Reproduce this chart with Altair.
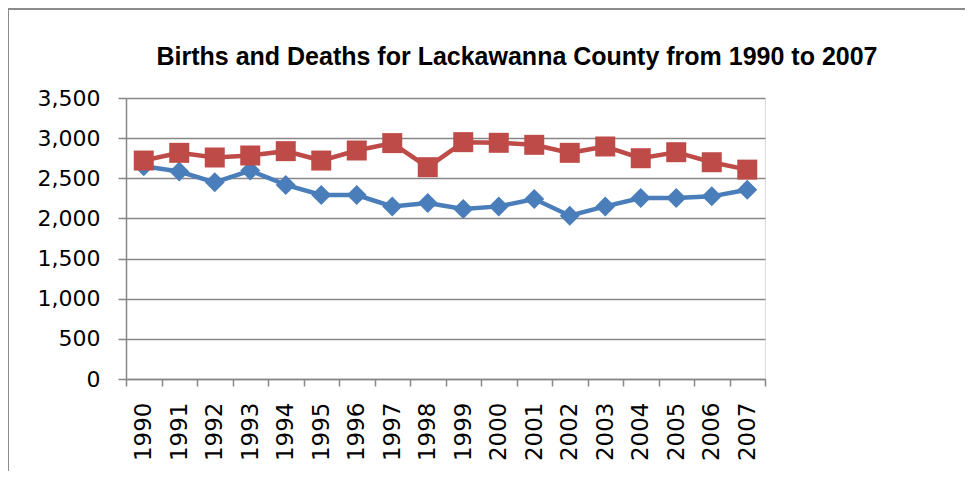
import altair as alt
import pandas as pd

years = [str(y) for y in range(1990, 2008)]
births = [2650, 2584, 2450, 2596, 2417, 2292, 2292, 2150, 2192, 2117,
          2150, 2242, 2034, 2150, 2254, 2254, 2275, 2358]
deaths = [2721, 2817, 2759, 2784, 2838, 2721, 2846, 2938, 2638, 2950,
          2942, 2917, 2817, 2896, 2750, 2825, 2700, 2608]
y_ticks = [0, 500, 1000, 1500, 2000, 2500, 3000, 3500]
title_text = "Births and Deaths for Lackawanna County from 1990 to 2007"

df_b = pd.DataFrame({"year": years, "value": births})
df_d = pd.DataFrame({"year": years, "value": deaths})

GRAY = "#878787"
BLUE = "#4A7EBB"
RED = "#BE4B48"

x_enc = alt.X(
    "year:O",
    bandPosition=0.5,
    scale=alt.Scale(type="band", paddingInner=0, paddingOuter=0),
    axis=alt.Axis(
        title=None, labelAngle=-90, labelFont="DejaVu Sans", labelFontSize=23,
        labelColor="black", labelPadding=16, labelAlign="right", labelBaseline="middle",
        tickBand="extent", tickSize=7, tickColor=GRAY, tickWidth=1.5,
        domainColor=GRAY, domainWidth=1.5, grid=False,
    ),
)
y_enc = alt.Y(
    "value:Q",
    scale=alt.Scale(domain=[0, 3500], nice=False),
    axis=alt.Axis(
        title=None, values=y_ticks, format=",.0f", labelFont="DejaVu Sans", labelFontSize=22,
        labelColor="black", labelPadding=18, tickSize=8, tickColor=GRAY, tickWidth=1.5,
        domainColor=GRAY, domainWidth=1.5, gridColor=GRAY, gridWidth=1.5, grid=True,
    ),
)

b_line = alt.Chart(df_b).mark_line(color=BLUE, strokeWidth=4.5).encode(x=x_enc, y=y_enc)
b_pts = alt.Chart(df_b).mark_point(shape="diamond", filled=True, size=400, color=BLUE, opacity=1).encode(x=x_enc, y=y_enc)
d_line = alt.Chart(df_d).mark_line(color=RED, strokeWidth=4.5).encode(x=x_enc, y=y_enc)
d_pts = alt.Chart(df_d).mark_point(shape="square", filled=True, size=400, color=RED, opacity=1).encode(x=x_enc, y=y_enc)

frame = alt.Chart(alt.Data(values=[{"a": 1}])).mark_rect(
    fill="transparent", stroke="#8c8c8c", strokeWidth=2
).encode(
    x=alt.value(-118), x2=alt.value(900), y=alt.value(-89), y2=alt.value(420)
)

title = alt.Chart(alt.Data(values=[{"t": title_text}])).mark_text(
    font="Liberation Sans", fontSize=25, fontWeight="bold", color="black",
    align="center", baseline="alphabetic",
).encode(
    text="t:N", x=alt.value(391), y=alt.value(-33)
)

chart = alt.layer(frame, title, b_line, b_pts, d_line, d_pts).properties(
    width=639,
    height=281,
    autosize=alt.AutoSizeParams(type="none"),
    padding={"left": 118, "top": 90, "right": 200, "bottom": 92},
).configure_view(stroke=None).configure(background="white")

chart.save("out.html", embed_options={"renderer": "svg", "actions": False})
